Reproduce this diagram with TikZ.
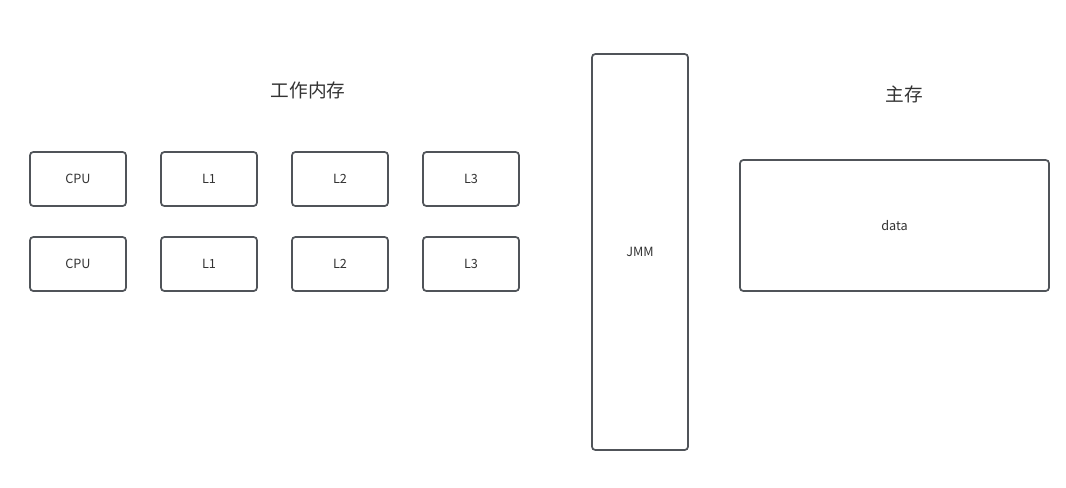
\documentclass[tikz,border=0pt]{standalone}
\usepackage{fontspec}
\setmainfont{Noto Sans CJK SC}
\usetikzlibrary{positioning}
\definecolor{boxLine}{RGB}{80, 84, 89}
\definecolor{boxText}{RGB}{51, 51, 51}
\begin{document}
\begin{tikzpicture} [
        x=0.75pt, y=-0.75pt,
        box/.style={draw=boxLine, line width=1.3pt, rounded corners=2.5pt, text=boxText, font=\fontsize{9.5}{11}\selectfont, inner sep=0pt},
        cache/.style={box, minimum width=72pt, minimum height=40.5pt},
        title/.style={text=boxText, font=\fontsize{14}{16}\selectfont, inner sep=0pt}
    ]
    \useasboundingbox (0,0) rectangle (1066,487);

    \node[title] (work mem) at (308,90) {工作内存};
    \node[title] (main mem) at (904,94) {主存};

    \foreach \row/\y in {1/179, 2/264} {
        \foreach \name [count=\i from 0] in {CPU, L1, L2, L3} {
            \node[cache] (\name\space\row) at (78+131*\i, \y) {\name};
        }
    }

    \node[box, minimum width=72pt, minimum height=297pt] (jmm) at (640,252) {JMM};
    \node[box, minimum width=231.75pt, minimum height=98.25pt] (data) at (894.5,225.5) {data};

\end{tikzpicture}
\end{document}
